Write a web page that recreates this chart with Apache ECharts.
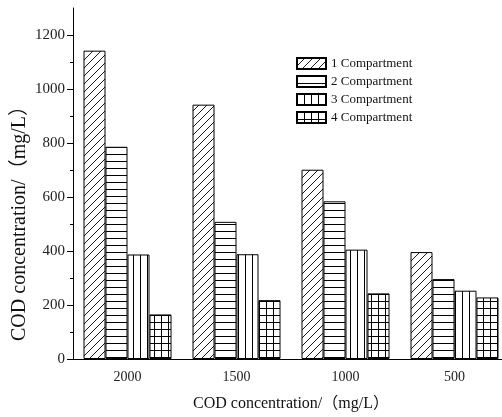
<!DOCTYPE html>
<html>
<head>
<meta charset="utf-8">
<script src="https://cdn.jsdelivr.net/npm/echarts@6/dist/echarts.min.js"></script>
<style>
html,body{margin:0;padding:0;background:#fff;}
#chart{width:502px;height:417px;}
</style>
</head>
<body>
<div id="chart"></div>
<script>
const categories = ['2000', '1500', '1000', '500'];
const seriesNames = ['1 Compartment', '2 Compartment', '3 Compartment', '4 Compartment'];
const comp1 = [1142, 942, 701, 396];
const comp2 = [786, 508, 584, 296];
const comp3 = [387, 388, 405, 253];
const comp4 = [165, 218, 243, 228];
const yMajorTicks = [0, 200, 400, 600, 800, 1000, 1200];
const yMinorTicks = [100, 300, 500, 700, 900, 1100];
const axisTitle = 'COD concentration/（mg/L）';

function makePattern(kind) {
  const c = document.createElement('canvas');
  const ctx = c.getContext('2d');
  if (kind === 'diag') {
    c.width = 8; c.height = 8;
    ctx.fillStyle = '#fff'; ctx.fillRect(0, 0, 8, 8);
    ctx.strokeStyle = '#000'; ctx.lineWidth = 0.9;
    ctx.beginPath();
    ctx.moveTo(-1, 9); ctx.lineTo(9, -1);
    ctx.moveTo(-1, 1); ctx.lineTo(1, -1);
    ctx.moveTo(7, 9); ctx.lineTo(9, 7);
    ctx.stroke();
  } else if (kind === 'hline') {
    c.width = 4; c.height = 7;
    ctx.fillStyle = '#fff'; ctx.fillRect(0, 0, 4, 7);
    ctx.fillStyle = '#000'; ctx.fillRect(0, 0, 4, 1);
  } else if (kind === 'vline') {
    c.width = 7; c.height = 4;
    ctx.fillStyle = '#fff'; ctx.fillRect(0, 0, 7, 4);
    ctx.fillStyle = '#000'; ctx.fillRect(0, 0, 1, 4);
  } else {
    c.width = 7; c.height = 7;
    ctx.fillStyle = '#fff'; ctx.fillRect(0, 0, 7, 7);
    ctx.fillStyle = '#000'; ctx.fillRect(0, 0, 7, 1); ctx.fillRect(0, 0, 1, 7);
  }
  return { image: c, repeat: 'repeat' };
}

const patterns = [makePattern('diag'), makePattern('hline'), makePattern('vline'), makePattern('grid')];
const dataSets = [comp1, comp2, comp3, comp4];
const FONT = '"Liberation Serif", "Times New Roman", "Noto Sans CJK SC", serif';

const chart = echarts.init(document.getElementById('chart'), null, { renderer: 'canvas' });
chart.setOption({
  animation: false,
  backgroundColor: '#fff',
  textStyle: { fontFamily: FONT },
  grid: { left: 73, top: 8, width: 436, bottom: 58, containLabel: false, outerBoundsMode: 'none' },
  legend: {
    orient: 'vertical',
    left: 296, top: 57,
    itemWidth: 29, itemHeight: 11, itemGap: 5,
    padding: 0,
    icon: 'rect',
    textStyle: { fontFamily: FONT, fontSize: 13, color: '#111' },
    data: seriesNames
  },
  xAxis: [{
    type: 'category',
    data: categories,
    boundaryGap: true,
    axisLine: { lineStyle: { color: '#000', width: 1 } },
    axisTick: { alignWithLabel: true, length: 4, lineStyle: { color: '#000' } },
    axisLabel: { fontFamily: FONT, fontSize: 14, color: '#222', margin: 11 },
    name: axisTitle,
    nameLocation: 'middle',
    nameGap: 37,
    nameMoveOverlap: false,
    nameTextStyle: { fontFamily: FONT, fontSize: 16, color: '#111' },
    splitLine: { show: false }
  }, {
    type: 'category',
    data: categories,
    position: 'bottom',
    boundaryGap: true,
    axisLine: { show: false },
    axisTick: { inside: true, length: 3, lineStyle: { color: '#000' } },
    axisLabel: { show: false },
    splitLine: { show: false }
  }],
  yAxis: [{
    type: 'value',
    min: 0, max: 1300, interval: 100,
    axisLine: { show: true, lineStyle: { color: '#000', width: 1 } },
    axisTick: { show: true, length: 6, customValues: yMajorTicks, lineStyle: { color: '#000' } },
    axisLabel: { fontFamily: FONT, fontSize: 15, color: '#222', margin: 8, customValues: yMajorTicks,
      formatter: function (v) { return String(v); } },
    splitLine: { show: false },
    name: axisTitle,
    nameLocation: 'middle',
    nameGap: 43,
    nameMoveOverlap: false,
    nameRotate: 90,
    nameTextStyle: { fontFamily: FONT, fontSize: 20, color: '#111', padding: [0, 70, 0, 0] }
  }, {
    type: 'value',
    position: 'left',
    min: 0, max: 1300, interval: 100,
    axisLine: { show: false },
    axisTick: { show: true, length: 3, customValues: yMinorTicks, lineStyle: { color: '#000' } },
    axisLabel: { show: false },
    splitLine: { show: false }
  }],
  series: seriesNames.map((name, i) => ({
    name: name,
    type: 'bar',
    xAxisIndex: 0,
    yAxisIndex: 0,
    barWidth: 22,
    barGap: '0%',
    data: dataSets[i],
    itemStyle: { color: patterns[i], borderColor: '#000', borderWidth: 1 }
  }))
});
</script>
</body>
</html>
